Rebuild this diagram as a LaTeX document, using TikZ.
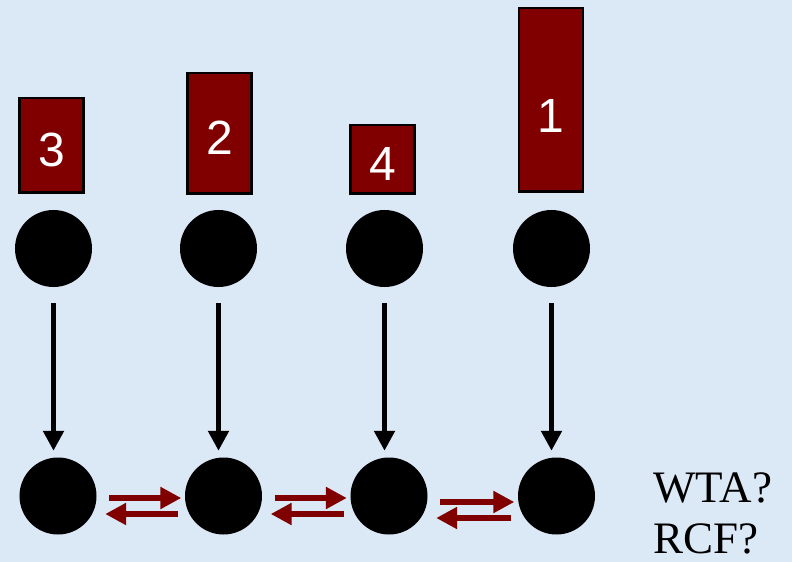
\documentclass[tikz,border=0pt]{standalone}
\usepackage{fontspec}
\usepackage{tikz}
\usetikzlibrary{arrows.meta}
\setmainfont{Liberation Serif}
\newfontfamily\digitfont{Liberation Sans}
\definecolor{sky}{RGB}{219,232,246}
\definecolor{wine}{RGB}{128,0,0}
\tikzstyle{bar} = [rectangle, minimum width=64bp, inner sep=0pt, draw=black, line width=2.5bp, fill=wine]
\tikzstyle{num} = [font=\digitfont\fontsize{48bp}{48bp}\selectfont, text=white, inner sep=0pt]
\tikzstyle{neuron} = [circle, minimum size=77bp, inner sep=0pt, fill=black]
\tikzstyle{feed} = [line width=5.5bp, -{Triangle[length=20bp,width=20bp]}, shorten <=16bp, shorten >=6.5bp]
\tikzstyle{lateral} = [wine, line width=6.5bp, -{Triangle[length=21bp,width=21bp]}]
\tikzstyle{toright} = [lateral, shorten <=12.5bp, shorten >=3.5bp]
\tikzstyle{toleft} = [lateral, shorten <=6.5bp, shorten >=8.5bp]
\tikzstyle{question} = [font=\fontsize{45bp}{54bp}\selectfont, inner sep=0pt, anchor=base west]

\begin{document}
\begin{tikzpicture}[x=1bp, y=-1bp]

    \fill [sky] (0,0) rectangle (792,562);
    \useasboundingbox (0,0) rectangle (792,562);

    % input bars
    \node (r3) [bar, minimum height=94.5bp] at (51.5,145.5) {};
    \node (r2) [bar, minimum height=120.5bp] at (219.5,133.5) {};
    \node (r4) [bar, minimum height=68.5bp] at (382.5,159.5) {};
    \node (r1) [bar, minimum height=183.5bp] at (551,100) {};
    \node (n3) [num] at ([yshift=-4bp]r3.center) {3};
    \node (n2) [num] at ([yshift=-4bp]r2.center) {2};
    \node (n4) [num] at ([yshift=-4bp]r4.center) {4};
    \node (n1) [num] at ([yshift=-16bp]r1.center) {1};

    % input layer
    \node (t1) [neuron] at (53.5,248.5) {};
    \node (t2) [neuron] at (218.5,248.5) {};
    \node (t3) [neuron] at (384.5,248.5) {};
    \node (t4) [neuron] at (551.5,248.5) {};

    % output layer
    \node (b1) [neuron] at (58,496) {};
    \node (b2) [neuron] at (223.5,496) {};
    \node (b3) [neuron] at (389,496) {};
    \node (b4) [neuron] at (556.5,496) {};

    \draw [feed] (t1.south) -- (t1.south |- b1.north);
    \draw [feed] (t2.south) -- (t2.south |- b2.north);
    \draw [feed] (t3.south) -- (t3.south |- b3.north);
    \draw [feed] (t4.south) -- (t4.south |- b4.north);

    % lateral connections
    \draw [toright] ([yshift=-2bp]b1.east) -- ([yshift=-2bp]b2.west);
    \draw [toleft] ([yshift=-18bp]b2.west) -- ([yshift=-18bp]b1.east);
    \draw [toright] ([yshift=-2bp]b2.east) -- ([yshift=-2bp]b3.west);
    \draw [toleft] ([yshift=-18bp]b3.west) -- ([yshift=-18bp]b2.east);
    \draw [toright] ([yshift=-6bp]b3.east) -- ([yshift=-6bp]b4.west);
    \draw [toleft] ([yshift=-22bp]b4.west) -- ([yshift=-22bp]b3.east);

    \node (wta) [question] at (653,502) {WTA?};
    \node (rcf) [question] at (653,553) {RCF?};
\end{tikzpicture}
\end{document}
